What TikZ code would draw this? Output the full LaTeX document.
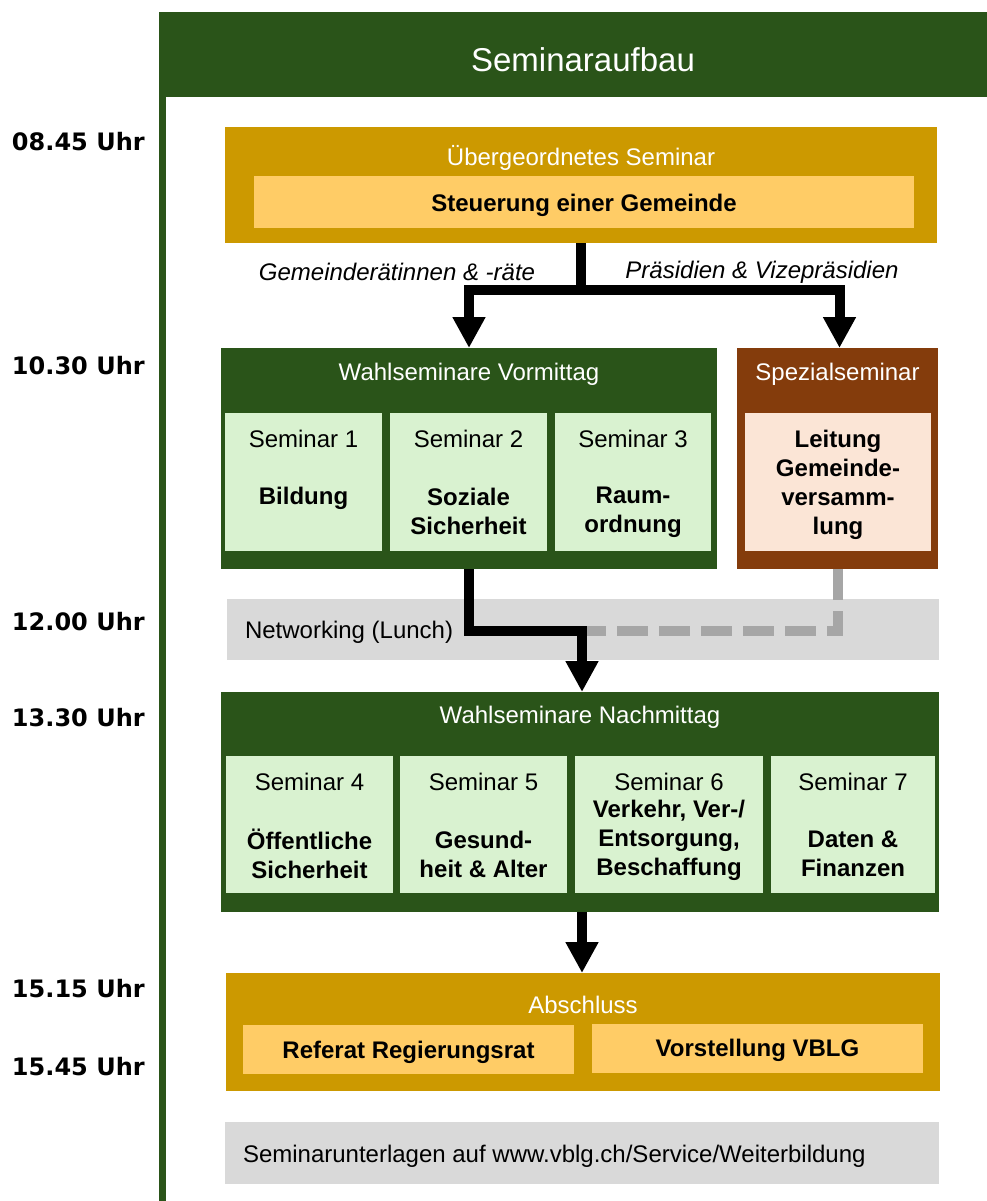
\documentclass[tikz,border=0pt]{standalone}
\usepackage{fontspec}
\setmainfont{Liberation Sans}
\newfontfamily\timefont{DejaVu Sans}
\usetikzlibrary{arrows.meta}
\definecolor{dkgreen}{HTML}{2A5419}
\definecolor{gold}{HTML}{CC9900}
\definecolor{lightgold}{HTML}{FFCC66}
\definecolor{lightgreen}{HTML}{D9F2D0}
\definecolor{brown}{HTML}{843C0C}
\definecolor{pale}{HTML}{FBE5D6}
\definecolor{greybox}{HTML}{D9D9D9}
\definecolor{dashgrey}{HTML}{A6A6A6}
\begin{document}
\begin{tikzpicture}[x=1pt,y=-1pt,
  box/.style={draw=none,inner sep=0pt,outer sep=0pt,anchor=center},
  txt/.style={inner sep=0pt,outer sep=0pt,align=center,font=\fontsize{24}{29}\selectfont},
  txtb/.style={inner sep=0pt,outer sep=0pt,align=center,font=\fontsize{24}{29}\selectfont\bfseries},
  txti/.style={inner sep=0pt,outer sep=0pt,align=center,font=\fontsize{24}{29}\selectfont\itshape},
  timelbl/.style={inner sep=0pt,outer sep=0pt,anchor=west,font=\fontsize{24}{29}\timefont\bfseries},
  flow/.style={draw=black,line width=10pt,line join=miter},
  flowarr/.style={flow,-{Triangle[width=31pt,length=31pt]}},
  lunchdash/.style={draw=dashgrey,line width=10pt,dash pattern=on 31pt off 11pt,line join=miter}
]
\useasboundingbox (0,0) rectangle (987,1201);

% frame
\node[box,fill=dkgreen,minimum width=828pt,minimum height=85pt] (header) at (573,54.5) {};
\fill[dkgreen] (159,12) rectangle (166,1201);
\node[txt,text=white,font=\fontsize{33}{38}\selectfont] (title) at (583,60) {Seminaraufbau};

% time labels
\node[timelbl] (t1) at (12,142) {08.45 Uhr};
\node[timelbl] (t2) at (12,366) {10.30 Uhr};
\node[timelbl] (t3) at (12,622) {12.00 Uhr};
\node[timelbl] (t4) at (12,718) {13.30 Uhr};
\node[timelbl] (t5) at (12,989) {15.15 Uhr};
\node[timelbl] (t6) at (12,1067) {15.45 Uhr};

% top seminar
\node[box,fill=gold,minimum width=712pt,minimum height=116pt] (ueber) at (581,185) {};
\node[box,fill=lightgold,minimum width=660pt,minimum height=52pt] (steuer) at (584,202) {};
\node[txt,text=white] (uebertxt) at (581,158) {Übergeordnetes Seminar};
\node[txtb] (steuertxt) at (584,205) {Steuerung einer Gemeinde};

% labels
\node[txti] (lblA) at (397,272) {Gemeinderätinnen \& -räte};
\node[txti] (lblB) at (762,272) {Präsidien \& Vizepräsidien};

% morning
\node[box,fill=dkgreen,minimum width=496pt,minimum height=221pt] (vormittag) at (469,458.5) {};
\node[txt,text=white] (vmtxt) at (469,374) {Wahlseminare Vormittag};
\node[box,fill=lightgreen,minimum width=157pt,minimum height=138pt] (s1) at (303.5,482) {};
\node[box,fill=lightgreen,minimum width=157pt,minimum height=138pt] (s2) at (468.5,482) {};
\node[box,fill=lightgreen,minimum width=156pt,minimum height=138pt] (s3) at (633,482) {};
\node[txt] (s1a) at (303.5,439) {Seminar 1};
\node[txt] (s2a) at (468.5,439) {Seminar 2};
\node[txt] (s3a) at (633,439) {Seminar 3};
\node[txtb] (s1b) at (303.5,498) {Bildung};
\node[txtb] (s2b) at (468.5,511) {Soziale\\Sicherheit};
\node[txtb] (s3b) at (633,512) {Raum-\\ordnung};

\node[box,fill=brown,minimum width=201pt,minimum height=221pt] (spez) at (837.5,458.5) {};
\node[txt,text=white] (speztxt) at (837.5,374) {Spezialseminar};
\node[box,fill=pale,minimum width=186pt,minimum height=138pt] (spezin) at (838,482) {};
\node[txtb] (spezb) at (838,485) {Leitung\\Gemeinde-\\versamm-\\lung};

% lunch
\node[box,fill=greybox,minimum width=712pt,minimum height=61pt] (lunch) at (583,629.5) {};
\node[txt,anchor=west] (lunchtxt) at (245,632) {Networking (Lunch)};

% afternoon
\node[box,fill=dkgreen,minimum width=718pt,minimum height=220pt] (nachmittag) at (580,802) {};
\node[txt,text=white] (nmtxt) at (580,717) {Wahlseminare Nachmittag};
\node[box,fill=lightgreen,minimum width=167pt,minimum height=137pt] (s4) at (309.5,824.5) {};
\node[box,fill=lightgreen,minimum width=167pt,minimum height=137pt] (s5) at (483.5,824.5) {};
\node[box,fill=lightgreen,minimum width=188pt,minimum height=137pt] (s6) at (669,824.5) {};
\node[box,fill=lightgreen,minimum width=164pt,minimum height=137pt] (s7) at (853,824.5) {};
\node[txt] (s4a) at (309.5,782) {Seminar 4};
\node[txt] (s5a) at (483.5,782) {Seminar 5};
\node[txt] (s6a) at (669,782) {Seminar 6};
\node[txt] (s7a) at (853,782) {Seminar 7};
\node[txtb] (s4b) at (309.5,854) {Öffentliche\\Sicherheit};
\node[txtb] (s5b) at (483.5,854) {Gesund-\\heit \& Alter};
\node[txtb] (s6b) at (669,840) {Verkehr, Ver-/\\Entsorgung,\\Beschaffung};
\node[txtb] (s7b) at (853,854) {Daten \&\\Finanzen};

% closing
\node[box,fill=gold,minimum width=714pt,minimum height=118pt] (abschluss) at (583,1032) {};
\node[txt,text=white] (abtxt) at (583,1005) {Abschluss};
\node[box,fill=lightgold,minimum width=331pt,minimum height=49pt] (referat) at (408.5,1049.5) {};
\node[box,fill=lightgold,minimum width=331pt,minimum height=49pt] (vorst) at (757.5,1048.5) {};
\node[txtb] (reftxt) at (408.5,1052) {Referat Regierungsrat};
\node[txtb] (vorsttxt) at (757.5,1050) {Vorstellung VBLG};

% documents
\node[box,fill=greybox,minimum width=714pt,minimum height=62pt] (unterlagen) at (582,1153) {};
\node[txt,anchor=west] (untertxt) at (243,1156) {Seminarunterlagen auf www.vblg.ch/Service/Weiterbildung};

% connectors
\coordinate (split) at (581,290);
\coordinate (lunchmid) at (582,631);
\draw[flow] (ueber.south) -- (split);
\draw[flowarr] (split) -| (vormittag.north);
\draw[flowarr] (split) -| ([xshift=2pt]spez.north);
\draw[lunchdash] (spez.south) |- (lunchmid);
\draw[flowarr] (vormittag.south) |- (lunchmid) -- (lunchmid |- nachmittag.north);
\draw[flowarr] (nachmittag.south -| lunchmid) -- (lunchmid |- abschluss.north);
\end{tikzpicture}
\end{document}
